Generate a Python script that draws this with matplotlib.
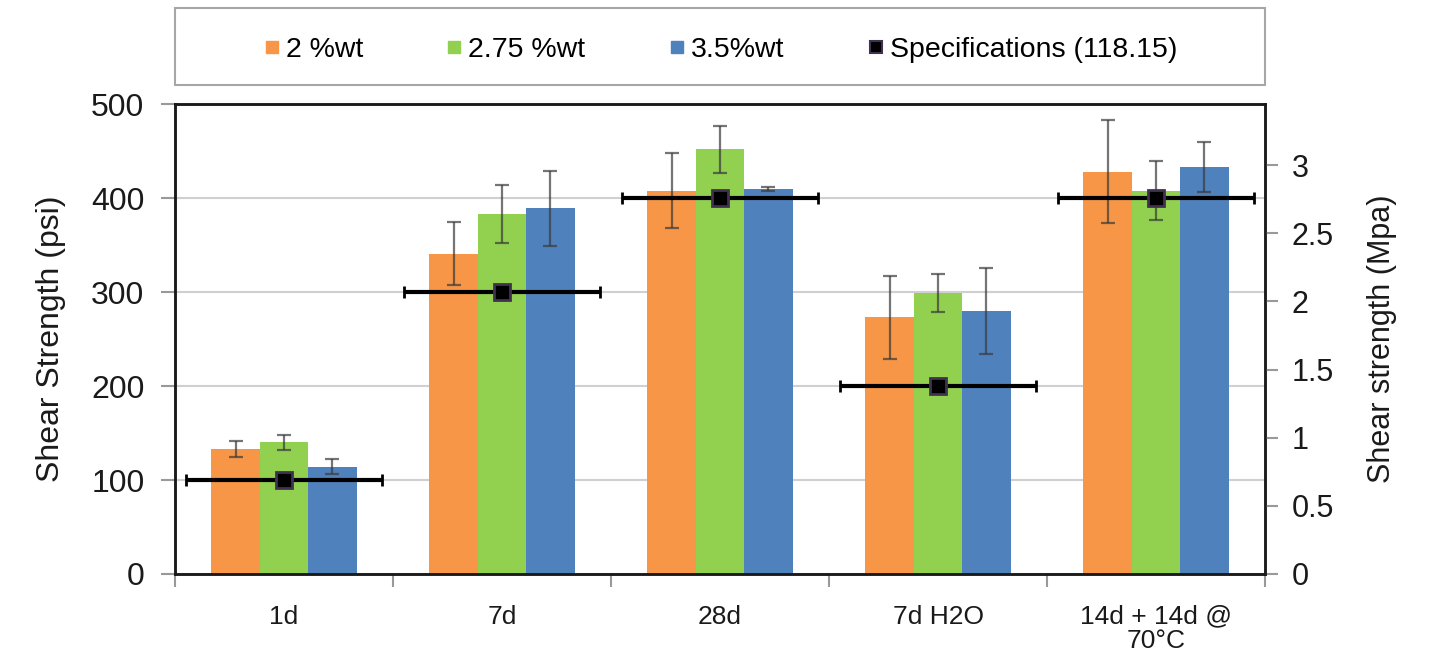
import matplotlib
matplotlib.use("Agg")
import matplotlib.pyplot as plt
import numpy as np
from matplotlib.lines import Line2D
from matplotlib.patches import Rectangle

plt.rcParams['font.family'] = ['Liberation Sans', 'DejaVu Sans']

categories = ['1d', '7d', '28d', '7d H2O', '14d + 14d @\n70°C']
series_names = ['2 %wt', '2.75 %wt', '3.5%wt']
values = {
    '2 %wt':    [133, 341, 408, 273, 428],
    '2.75 %wt': [140, 383, 452, 299, 408],
    '3.5%wt':   [114, 389, 410, 280, 433],
}
errors = {
    '2 %wt':    [9, 34, 40, 44, 55],
    '2.75 %wt': [8, 31, 25, 20, 31],
    '3.5%wt':   [8, 40, 2, 46, 27],
}
spec_label = 'Specifications (118.15)'
spec_values = [100, 300, 400, 200, 400]
colors = ['#F79646', '#92D050', '#4F81BD']
psi_per_mpa = 145.04

fig = plt.figure(figsize=(14.29, 6.59), dpi=100)
ax = fig.add_axes([0.1225, 0.129, 0.7628, 0.713])

x = np.arange(len(categories))
bw = 0.222
for i, name in enumerate(series_names):
    ax.bar(x + (i - 1) * bw, values[name], width=bw, color=colors[i],
           edgecolor='none', zorder=2)
    ax.errorbar(x + (i - 1) * bw, values[name], yerr=errors[name], fmt='none',
                ecolor='#3a3a3a', alpha=0.7, elinewidth=1.6, capsize=5,
                capthick=1.6, zorder=3)

ax.errorbar(x, spec_values, xerr=0.45, fmt='s', color='black', ms=11,
            mfc='black', mec='#403152', mew=2, elinewidth=3, ecolor='black',
            capsize=4, capthick=3, zorder=4)

ax.set_xlim(-0.5, len(categories) - 0.5)
ax.set_ylim(0, 500)
ax.set_yticks([0, 100, 200, 300, 400, 500])
ax.yaxis.grid(True, color='#d0d0d0', lw=1.5, zorder=0)
ax.set_axisbelow(True)

ax.set_xticks(x)
ax.set_xticklabels(categories, fontsize=19, color='#1a1a1a', linespacing=1.0)
ax.set_xticks(np.arange(len(categories) + 1) - 0.5, minor=True)
ax.tick_params(axis='x', which='major', length=0, pad=22)
ax.tick_params(axis='x', which='minor', length=9, color='#999999', width=1.5, direction='out')
ax.tick_params(axis='y', labelsize=23, length=10, color='#999999', width=1.5, pad=12,
               labelcolor='#1a1a1a')
ax.set_ylabel('Shear Strength (psi)', fontsize=23, labelpad=18, color='#1a1a1a')

for s in ax.spines.values():
    s.set_color('#1a1a1a')
    s.set_linewidth(1.8)

ax2 = ax.twinx()
ax2.set_ylim(0, 500 / psi_per_mpa)
ax2.set_yticks([0, 0.5, 1, 1.5, 2, 2.5, 3])
ax2.set_yticklabels(['0', '0.5', '1', '1.5', '2', '2.5', '3'])
ax2.tick_params(axis='y', labelsize=22, length=9, color='#999999', width=1.5, pad=10,
                labelcolor='#1a1a1a')
ax2.set_ylabel('Shear strength (Mpa)', fontsize=22, labelpad=24, color='#1a1a1a')
for s in ax2.spines.values():
    s.set_color('#1a1a1a')
    s.set_linewidth(1.8)

# legend box
fig.patches.append(Rectangle((0.1225, 0.871), 0.7628, 0.117, transform=fig.transFigure,
                             fill=False, edgecolor='#a6a6a6', lw=1.5))
handles = [Line2D([], [], ls='none', marker='s', ms=9, mfc=c, mec=c) for c in colors]
handles.append(Line2D([], [], ls='none', marker='s', ms=9, mfc='black', mec='#403152', mew=1.5))
fig.legend(handles, series_names + [spec_label], loc='center',
           bbox_to_anchor=(0.1225 + 0.7628 / 2, 0.871 + 0.117 / 2 - 0.006), ncol=4,
           frameon=False, fontsize=20.5, handlelength=0.6, handletextpad=0.2,
           columnspacing=2.9)

fig.savefig('out.png', dpi=100)
